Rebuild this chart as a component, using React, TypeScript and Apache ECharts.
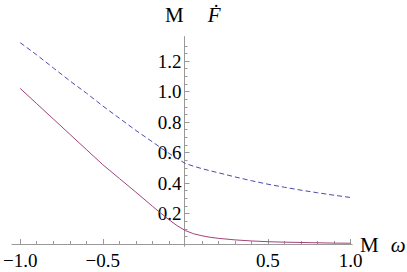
import React, { useEffect, useRef } from "react";
import * as echarts from "echarts";

const xs = [-1.0, -0.9, -0.8, -0.7, -0.6, -0.5, -0.4, -0.3, -0.2, -0.15, -0.1, -0.05, 0, 0.05, 0.1, 0.15, 0.2, 0.3, 0.4, 0.5, 0.6, 0.7, 0.8, 0.9, 1.0];
const solidValues = [1.02, 0.92, 0.82, 0.72, 0.62, 0.52, 0.43, 0.34, 0.248, 0.203, 0.16, 0.12, 0.088, 0.067, 0.054, 0.044, 0.037, 0.027, 0.02, 0.015, 0.012, 0.01, 0.008, 0.006, 0.005];
const dashedValues = [1.32, 1.24, 1.155, 1.07, 0.99, 0.905, 0.825, 0.745, 0.67, 0.632, 0.595, 0.56, 0.528, 0.51, 0.494, 0.48, 0.467, 0.44, 0.415, 0.392, 0.372, 0.353, 0.336, 0.32, 0.305];

const xMajorTicks = [-1.0, -0.5, 0.5, 1.0];
const xMinorTicks = [-0.9, -0.8, -0.7, -0.6, -0.4, -0.3, -0.2, -0.1, 0.1, 0.2, 0.3, 0.4, 0.6, 0.7, 0.8, 0.9];
const yMajorTicks = [0.2, 0.4, 0.6, 0.8, 1.0, 1.2];
const yMinorTicks = [0.05, 0.1, 0.15, 0.25, 0.3, 0.35, 0.45, 0.5, 0.55, 0.65, 0.7, 0.75, 0.85, 0.9, 0.95, 1.05, 1.1, 1.15, 1.25, 1.3];

const FONT = "serif";
const AXIS_COLOR = "#999999";

const fmt = (v: number) => (v < 0 ? "\u2212" + Math.abs(v).toFixed(1) : v.toFixed(1));

export default function App() {
  const ref = useRef<HTMLDivElement>(null);
  useEffect(() => {
    if (!ref.current) return;
    const chart = echarts.init(ref.current, null, { renderer: "svg" });
    const labelStyle = { fontFamily: FONT, fontSize: 19, color: "#000" };
    const hiddenAxis = {
      show: false,
      axisLine: { show: false },
      axisTick: { show: false },
      axisLabel: { show: false },
      splitLine: { show: false },
    };
    chart.setOption({
      animation: false,
      backgroundColor: "#fff",
      textStyle: { fontFamily: FONT },
      grid: [
        { left: 10.2, right: 54.8, top: 36.6, bottom: 28, containLabel: false },
        { left: 184.5, width: 1, top: 36.6, bottom: 25.7, containLabel: false },
      ],
      xAxis: [
        {
          type: "value",
          gridIndex: 0,
          min: -1.05,
          max: 1.01,
          position: "bottom",
          axisLine: { show: true, onZero: false, lineStyle: { color: AXIS_COLOR, width: 1 } },
          axisTick: { show: true, inside: true, length: 5, customValues: xMajorTicks, lineStyle: { color: AXIS_COLOR } },
          axisLabel: { show: true, customValues: xMajorTicks, formatter: fmt, margin: 7, ...labelStyle },
          splitLine: { show: false },
        },
        {
          type: "value",
          gridIndex: 0,
          min: -1.05,
          max: 1.01,
          position: "bottom",
          axisLine: { show: false, onZero: false },
          axisTick: { show: true, inside: true, length: 3, customValues: xMinorTicks, lineStyle: { color: AXIS_COLOR } },
          axisLabel: { show: false },
          splitLine: { show: false },
        },
        { type: "value", gridIndex: 1, min: 0, max: 1, ...hiddenAxis },
      ],
      yAxis: [
        { type: "value", gridIndex: 0, min: 0, max: 1.36, ...hiddenAxis },
        {
          type: "value",
          gridIndex: 1,
          min: -0.015,
          max: 1.36,
          position: "left",
          axisLine: { show: true, onZero: false, lineStyle: { color: AXIS_COLOR, width: 1 } },
          axisTick: { show: true, inside: true, length: 5, customValues: yMajorTicks, lineStyle: { color: AXIS_COLOR } },
          axisLabel: { show: true, customValues: yMajorTicks, formatter: fmt, margin: 3, ...labelStyle },
          splitLine: { show: false },
        },
        {
          type: "value",
          gridIndex: 1,
          min: -0.015,
          max: 1.36,
          position: "left",
          axisLine: { show: false, onZero: false },
          axisTick: { show: true, inside: true, length: 3, customValues: yMinorTicks, lineStyle: { color: AXIS_COLOR } },
          axisLabel: { show: false },
          splitLine: { show: false },
        },
      ],
      series: [
        {
          type: "line",
          xAxisIndex: 0,
          yAxisIndex: 0,
          data: xs.map((x, i) => [x, dashedValues[i]]),
          showSymbol: false,
          smooth: false,
          lineStyle: { color: "#4a4ab0", width: 1, type: [5, 3] },
        },
        {
          type: "line",
          xAxisIndex: 0,
          yAxisIndex: 0,
          data: xs.map((x, i) => [x, solidValues[i]]),
          showSymbol: false,
          smooth: false,
          lineStyle: { color: "#a0447c", width: 1 },
        },
      ],
      graphic: [
        {
          type: "text",
          left: 165,
          top: 4,
          style: {
            text: "{a|M}{b|\u1E1E}",
            fontFamily: FONT,
            fontSize: 21,
            rich: {
              a: { fontFamily: FONT, fontSize: 21, fill: "#000" },
              b: { fontFamily: FONT, fontSize: 21, fontStyle: "italic", fill: "#000", padding: [0, 0, 0, 24] },
            },
          },
        },
        {
          type: "text",
          left: 360,
          top: 234,
          style: {
            text: "{a|M}{b|\u03C9}",
            fontFamily: FONT,
            fontSize: 21,
            rich: {
              a: { fontFamily: FONT, fontSize: 21, fill: "#000" },
              b: { fontFamily: FONT, fontSize: 21, fontStyle: "italic", fill: "#000", padding: [0, 0, 0, 12] },
            },
          },
        },
      ],
    });
    return () => chart.dispose();
  }, []);
  return <div ref={ref} style={{ position: "absolute", left: 0, top: 0, width: 407, height: 272 }} />;
}
